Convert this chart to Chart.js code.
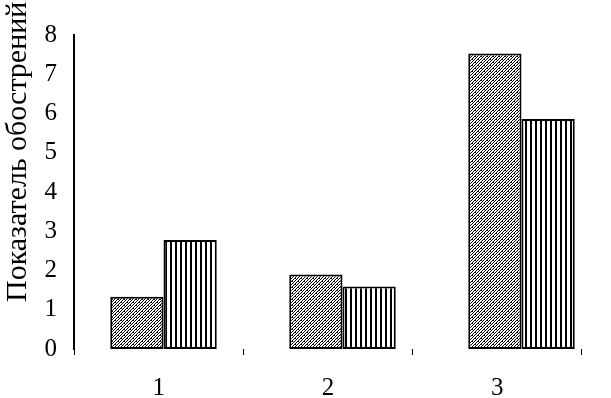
<!DOCTYPE html>
<html>
<head>
<meta charset="utf-8">
<script src="https://cdn.jsdelivr.net/npm/chart.js@4/dist/chart.umd.min.js"></script>
<style>
  html, body { margin: 0; padding: 0; background: #fff; }
  #wrap { width: 611px; height: 398px; }
</style>
</head>
<body>
<div id="wrap"><canvas id="c" width="611" height="398"></canvas></div>
<script>
const categories = ['1', '2', '3'];
const series1 = [1.33, 1.9, 7.53];
const series2 = [2.78, 1.59, 5.86];
const yTicks = [0, 1, 2, 3, 4, 5, 6, 7, 8];
const xTickLabels = ['1', '2', '3'];
const yTitle = 'Показатель обострений';

function makeHatch() {
  const c = document.createElement('canvas');
  c.width = 6; c.height = 6;
  const g = c.getContext('2d');
  g.fillStyle = '#fff'; g.fillRect(0, 0, 6, 6);
  g.fillStyle = '#000';
  for (let x = 0; x < 6; x++) {
    for (let y = 0; y < 6; y++) {
      const k = (x + y) % 3;
      if (k === 2) g.fillRect(x, y, 1, 1);
    }
  }
  g.fillRect(1, 2, 1, 1);
  g.fillRect(4, 5, 1, 1);
  return g.createPattern(c, 'repeat');
}
function makeStripes() {
  const c = document.createElement('canvas');
  c.width = 5; c.height = 5;
  const g = c.getContext('2d');
  g.fillStyle = '#fff'; g.fillRect(0, 0, 5, 5);
  g.fillStyle = '#000'; g.fillRect(0, 0, 2, 5);
  return g.createPattern(c, 'repeat');
}

const titlePlugin = {
  id: 'yTitleText',
  afterDraw(chart) {
    const ctx = chart.ctx;
    ctx.save();
    ctx.font = '30px "Liberation Serif"';
    ctx.fillStyle = '#000';
    ctx.textAlign = 'left';
    ctx.textBaseline = 'alphabetic';
    ctx.translate(26, 302);
    ctx.rotate(-Math.PI / 2);
    ctx.fillText(yTitle, 0, 0);
    ctx.restore();
  }
};

const xMax = 537 / 169.33;

new Chart(document.getElementById('c'), {
  type: 'bar',
  data: {
    labels: categories,
    datasets: [
      { label: 'Ряд 1', data: series1, backgroundColor: makeHatch(), borderColor: '#000', borderWidth: 2, borderSkipped: false, xAxisID: 'x', yAxisID: 'y' },
      { label: 'Ряд 2', data: series2, backgroundColor: makeStripes(), borderColor: '#000', borderWidth: 2, borderSkipped: false, xAxisID: 'x', yAxisID: 'y' }
    ]
  },
  options: {
    responsive: false,
    animation: false,
    devicePixelRatio: 1,
    layout: { padding: { top: 35, right: 0, bottom: 0, left: 0 } },
    datasets: { bar: { categoryPercentage: 0.595, barPercentage: 1.0 } },
    plugins: { legend: { display: false }, tooltip: { enabled: false }, title: { display: false } },
    scales: {
      x: { type: 'category', display: false, offset: true },
      x2: {
        type: 'linear', position: 'bottom', min: 0, max: xMax, bounds: 'data', offset: false,
        afterBuildTicks: (s) => { s.min = 0; s.max = xMax; s.ticks = [0, 0.5, 1, 1.5, 2, 2.5, 3].map(v => ({ value: v })); },
        afterFit: (s) => { s.height = 49; },
        border: { display: false },
        grid: {
          display: true, offset: false, drawOnChartArea: false, drawTicks: true, tickLength: 6, lineWidth: 1,
          tickColor: (ctx) => (ctx.tick && Number.isInteger(ctx.tick.value)) ? '#000' : 'rgba(0,0,0,0)'
        },
        ticks: {
          autoSkip: false, maxRotation: 0, padding: 18, color: '#000',
          font: { family: 'Liberation Serif', size: 25 },
          callback: (v) => { const i = Math.floor(v); return (v - i === 0.5) ? xTickLabels[i] : ''; }
        }
      },
      y: {
        type: 'linear', position: 'left', min: 0, max: 8,
        afterBuildTicks: (s) => { s.ticks = yTicks.map(v => ({ value: v })); },
        afterFit: (s) => { s.width = 74; },
        border: { display: true, color: '#000', width: 2 },
        grid: { display: false, drawTicks: false },
        ticks: { padding: 17, color: '#000', font: { family: 'Liberation Serif', size: 25 } }
      }
    }
  },
  plugins: [titlePlugin]
});
</script>
</body>
</html>
